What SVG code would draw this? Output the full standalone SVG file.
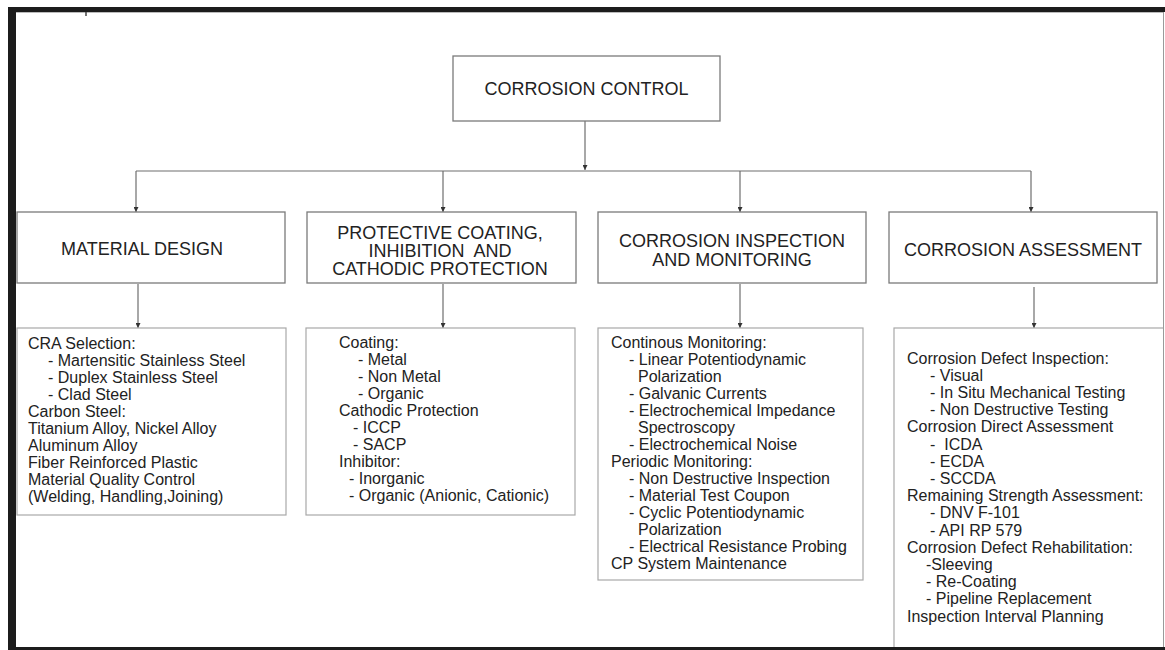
<svg xmlns="http://www.w3.org/2000/svg" width="1165" height="650" viewBox="0 0 1165 650">
<defs>
<style>
.box{fill:#fff;stroke:#7a7a7a;stroke-width:1.3}
.lbox{fill:#fff;stroke:#a8a8a8;stroke-width:1.2}
.h{font-family:"Liberation Sans",Arial,sans-serif;font-size:18px;fill:#222;text-anchor:middle;white-space:pre}
.t{font-family:"Liberation Sans",Arial,sans-serif;font-size:16px;fill:#222;white-space:pre}
.c{fill:none;stroke:#6e6e6e;stroke-width:1.2}
</style>
<marker id="ah" viewBox="0 0 8 8" refX="8" refY="4" markerWidth="5" markerHeight="5" orient="auto" markerUnits="userSpaceOnUse">
<path d="M0,0 L8,4 L0,8 z" fill="#333"/>
</marker>
</defs>
<rect x="0" y="0" width="1165" height="650" fill="#fff"/>
<g id="frame">
<rect x="8" y="7" width="1157" height="5" fill="#1c1c1c"/>
<rect x="8" y="7" width="8" height="643" fill="#1c1c1c"/>
<rect x="8" y="647" width="1157" height="3" fill="#1c1c1c"/>
<line x1="1163.5" y1="12" x2="1163.5" y2="647" stroke="#9a9a9a" stroke-width="1"/>
<line x1="16" y1="12.5" x2="1163" y2="12.5" stroke="#bbb" stroke-width="1"/>
<line x1="86" y1="12" x2="86" y2="16" stroke="#444" stroke-width="1.5"/>
</g>
<g id="connectors">
<line class="c" x1="585" y1="121" x2="585" y2="170" marker-end="url(#ah)"/>
<line class="c" x1="136" y1="171" x2="1031" y2="171"/>
<line class="c" x1="136" y1="171" x2="136" y2="212" marker-end="url(#ah)"/>
<line class="c" x1="443" y1="171" x2="443" y2="212" marker-end="url(#ah)"/>
<line class="c" x1="740" y1="171" x2="740" y2="212" marker-end="url(#ah)"/>
<line class="c" x1="1031" y1="171" x2="1031" y2="212" marker-end="url(#ah)"/>
<line class="c" x1="138" y1="284" x2="138" y2="328" marker-end="url(#ah)"/>
<line class="c" x1="443" y1="284" x2="443" y2="328" marker-end="url(#ah)"/>
<line class="c" x1="740" y1="284" x2="740" y2="328" marker-end="url(#ah)"/>
<line class="c" x1="1034" y1="287" x2="1034" y2="328" marker-end="url(#ah)"/>
</g>
<g id="corrosion-control">
<rect class="box" x="453" y="56" width="267" height="65"/>
<text class="h" x="586.5" y="94.5">CORROSION CONTROL</text>
</g>
<g id="material-design">
<rect class="box" x="17" y="212" width="268" height="71"/>
<text class="h" x="142" y="254.5">MATERIAL DESIGN</text>
</g>
<g id="protective-coating">
<rect class="box" x="307" y="212" width="269" height="71"/>
<text class="h" x="440" y="238.5">PROTECTIVE COATING,</text>
<text class="h" x="440" y="256.8">INHIBITION  AND</text>
<text class="h" x="440" y="275">CATHODIC PROTECTION</text>
</g>
<g id="inspection-monitoring">
<rect class="box" x="598" y="212" width="268" height="71"/>
<text class="h" x="732" y="246.5">CORROSION INSPECTION</text>
<text class="h" x="732" y="265.5">AND MONITORING</text>
</g>
<g id="corrosion-assessment">
<rect class="box" x="889" y="212" width="268" height="71"/>
<text class="h" x="1023" y="255.5">CORROSION ASSESSMENT</text>
</g>
<g id="material-list">
<rect class="lbox" x="17" y="328" width="269" height="187"/>
<text class="t" x="28" y="349">CRA Selection:</text>
<text class="t" x="48" y="366">- Martensitic Stainless Steel</text>
<text class="t" x="48" y="383">- Duplex Stainless Steel</text>
<text class="t" x="48" y="400">- Clad Steel</text>
<text class="t" x="28" y="417">Carbon Steel:</text>
<text class="t" x="28" y="434">Titanium Alloy, Nickel Alloy</text>
<text class="t" x="28" y="451">Aluminum Alloy</text>
<text class="t" x="28" y="468">Fiber Reinforced Plastic</text>
<text class="t" x="28" y="485">Material Quality Control</text>
<text class="t" x="28" y="502">(Welding, Handling,Joining)</text>
</g>
<g id="protective-list">
<rect class="lbox" x="306" y="328" width="269" height="187"/>
<text class="t" x="339" y="348">Coating:</text>
<text class="t" x="358" y="365">- Metal</text>
<text class="t" x="358" y="382">- Non Metal</text>
<text class="t" x="358" y="399">- Organic</text>
<text class="t" x="339" y="416">Cathodic Protection</text>
<text class="t" x="353" y="433">- ICCP</text>
<text class="t" x="353" y="450">- SACP</text>
<text class="t" x="339" y="467">Inhibitor:</text>
<text class="t" x="349" y="484">- Inorganic</text>
<text class="t" x="349" y="501">- Organic (Anionic, Cationic)</text>
</g>
<g id="monitoring-list">
<rect class="lbox" x="598" y="328" width="265" height="252"/>
<text class="t" x="611" y="348">Continous Monitoring:</text>
<text class="t" x="629" y="365">- Linear Potentiodynamic</text>
<text class="t" x="638" y="382">Polarization</text>
<text class="t" x="629" y="399">- Galvanic Currents</text>
<text class="t" x="629" y="416">- Electrochemical Impedance</text>
<text class="t" x="638" y="433">Spectroscopy</text>
<text class="t" x="629" y="450">- Electrochemical Noise</text>
<text class="t" x="611" y="467">Periodic Monitoring:</text>
<text class="t" x="629" y="484">- Non Destructive Inspection</text>
<text class="t" x="629" y="501">- Material Test Coupon</text>
<text class="t" x="629" y="518">- Cyclic Potentiodynamic</text>
<text class="t" x="638" y="535">Polarization</text>
<text class="t" x="629" y="552">- Electrical Resistance Probing</text>
<text class="t" x="611" y="569">CP System Maintenance</text>
</g>
<g id="assessment-list">
<rect class="lbox" x="894" y="328" width="280" height="330"/>
<text class="t" x="907" y="363.5">Corrosion Defect Inspection:</text>
<text class="t" x="930" y="380.7">- Visual</text>
<text class="t" x="930" y="397.9">- In Situ Mechanical Testing</text>
<text class="t" x="930" y="415.1">- Non Destructive Testing</text>
<text class="t" x="907" y="432.3">Corrosion Direct Assessment</text>
<text class="t" x="930" y="449.5">-  ICDA</text>
<text class="t" x="930" y="466.7">- ECDA</text>
<text class="t" x="930" y="483.9">- SCCDA</text>
<text class="t" x="907" y="501.1">Remaining Strength Assessment:</text>
<text class="t" x="930" y="518.3">- DNV F-101</text>
<text class="t" x="930" y="535.5">- API RP 579</text>
<text class="t" x="907" y="552.7">Corrosion Defect Rehabilitation:</text>
<text class="t" x="926" y="569.9">-Sleeving</text>
<text class="t" x="926" y="587.1">- Re-Coating</text>
<text class="t" x="926" y="604.3">- Pipeline Replacement</text>
<text class="t" x="907" y="621.5">Inspection Interval Planning</text>
</g>
<g id="frame-overlay">
<rect x="8" y="647" width="1157" height="3" fill="#1c1c1c"/>
<rect x="1164" y="12" width="1" height="635" fill="#fff"/>
<line x1="1163.5" y1="12" x2="1163.5" y2="647" stroke="#9a9a9a" stroke-width="1"/>
</g>
</svg>
